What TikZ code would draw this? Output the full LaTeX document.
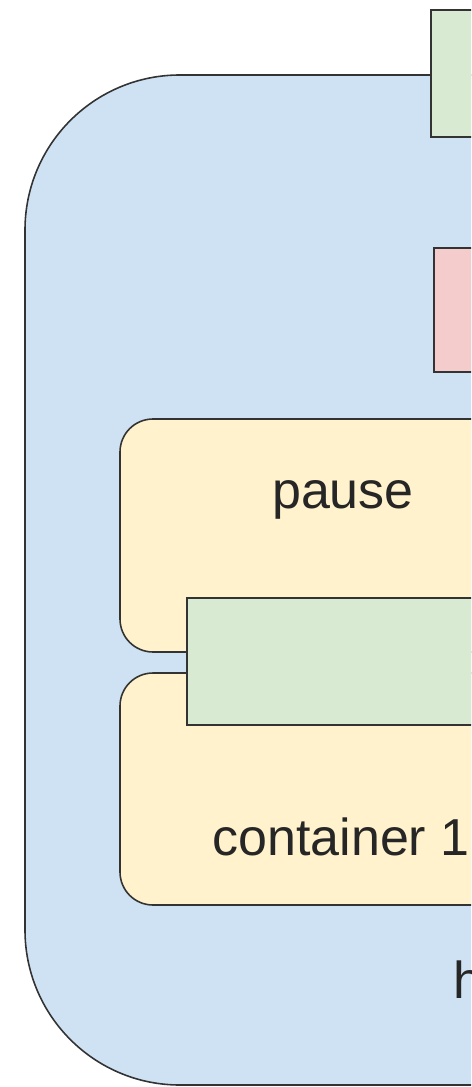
\documentclass[tikz,border=0pt]{standalone}
\usepackage{fontspec}
\setmainfont{Liberation Sans}
\usepackage{tikz}
\usetikzlibrary{positioning}
\definecolor{hostblue}{HTML}{CFE2F3}
\definecolor{podgreen}{HTML}{D9EAD3}
\definecolor{podpink}{HTML}{F4CCCC}
\definecolor{ctryellow}{HTML}{FFF2CC}
\definecolor{edgegray}{HTML}{333333}
\tikzstyle{hostbox} = [fill=hostblue, draw=edgegray, line width=0.9pt, rounded corners=3.1cm]
\tikzstyle{ctrbox} = [fill=ctryellow, draw=edgegray, line width=0.9pt, rounded corners=0.66cm]
\tikzstyle{greenbox} = [fill=podgreen, draw=edgegray, line width=0.9pt]
\tikzstyle{pinkbox} = [fill=podpink, draw=edgegray, line width=0.9pt]
\tikzstyle{label} = [inner sep=0pt, font=\fontsize{29.6pt}{35pt}\selectfont, text=black!85]

\begin{document}
\begin{tikzpicture}[x=0.02cm, y=-0.02cm]
\useasboundingbox (0,0) rectangle (471,1087);
\clip (0,0) rectangle (471,1087);
% host
\draw [hostbox] (25,75) rectangle (700,1085);
\draw [greenbox] (431,10) rectangle (560,137);
\draw [pinkbox] (434,248) rectangle (560,372);
% pause and container 1
\draw [ctrbox] (120,419) rectangle (600,652);
\draw [ctrbox] (120,673) rectangle (600,905);
\draw [greenbox] (187,598) rectangle (600,725);
\node (pause) [label, anchor=base] at (343,508) {pause};
\node (ctr) [label, anchor=base west] at (212,855) {container 1};
\node (host) [label, anchor=base west] at (453,998) {h};
\end{tikzpicture}
\end{document}
